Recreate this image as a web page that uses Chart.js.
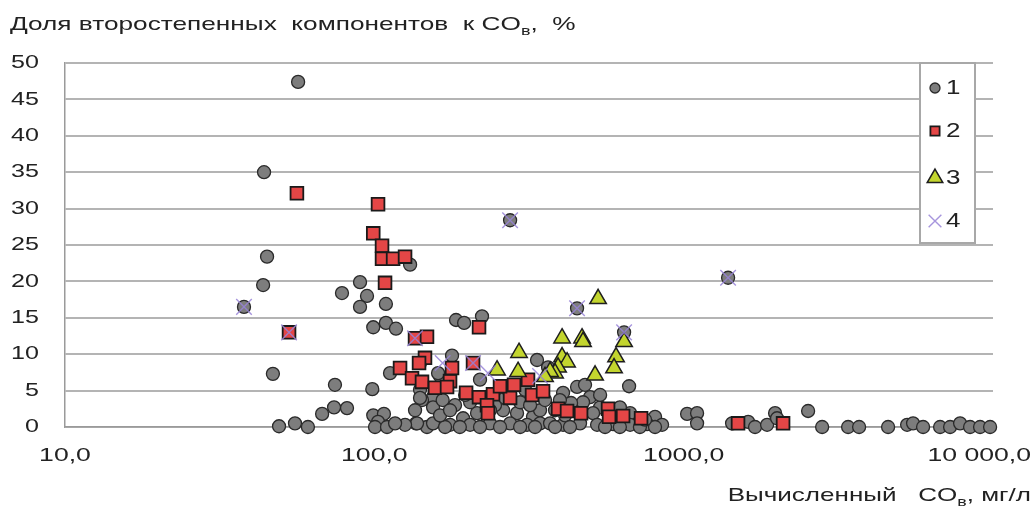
<!DOCTYPE html>
<html>
<head>
<meta charset="utf-8">
<script src="https://cdn.jsdelivr.net/npm/chart.js@4.4.1/dist/chart.umd.min.js"></script>
<style>
  html, body { margin: 0; padding: 0; background: #fff; }
</style>
</head>
<body>
<canvas id="chart" width="1035" height="507"></canvas>
<script>
// Серия 1 (серые кружки)
const s1X = [56.7, 44.0, 45.0, 43.7, 47.0, 49.2, 55.4, 61.0, 67.8, 74.1, 81.6, 74.6, 78.6, 89.9, 94.7, 89.9, 109, 99.2, 109, 117.5,
  130.5, 98.5, 112.4, 99.2, 107.4, 102.8, 100.5, 109.9, 136.4, 148, 154.8, 142.6, 163.1, 140.5, 183.7, 195.1, 222.9, 178.3,
  37.9, 274.7, 1392, 452.2, 641.8, 666.2, 335.7, 364.4,
  137.4, 154.8, 175.7, 140.5, 140.5, 154.8, 166.3, 160.7, 219.6, 214.8, 260.8, 289.3, 325.8, 343.3, 193.6, 236.5, 274.7, 311.7, 343.3,
  452.2, 498.2, 472.8, 407.5, 432.5, 536.9, 509.5, 671.2, 808.1, 851.6, 369.9, 407.5, 462.4, 525, 591.2, 671.2, 761.6,
  1026, 1105, 1105, 1434, 1616, 1701, 1861, 1975, 2004, 2525, 2803, 3401, 3691, 4580, 5277, 5516, 5943, 6745, 7267, 7828, 8432, 9083, 9786,
  182.3, 204, 245.5, 264.7, 296, 318.8, 383.9, 413.7, 356.3, 307.2, 264.7, 398, 204, 219.6, 254.9, 296, 169.3, 189, 330.8, 383.9,
  429, 557, 622, 722, 808, 236.5, 196.6, 578, 622, 750, 163.1, 175.7, 479.9, 536.9, 135.4, 125.7, 116.7];
const s1Y = [47.4, 35.0, 23.4, 19.5, 7.3, 0.1, 0.5, 0, 1.8, 2.7, 2.6, 5.8, 18.4, 19.9, 18.0, 16.5, 16.9, 13.7, 14.3, 13.5,
  22.3, 5.2, 7.4, 1.6, 1.8, 0.7, 0, 0, 0.5, 0, 4.1, 3.7, 7.0, 8.8, 14.7, 14.3, 15.2, 9.8,
  16.5, 28.4, 20.5, 16.3, 13.0, 5.6, 9.2, 8.2,
  0.5, 0.5, 0.3, 5.1, 4.0, 2.7, 3.7, 7.4, 6.5, 1.9, 2.3, 1.9, 1.4, 2.3, 1.2, 0.5, 0.5, 0.3, 0.5,
  5.5, 4.1, 3.4, 4.7, 3.3, 2.7, 1.9, 1.9, 1.4, 0.3, 0.5, 0.3, 0.5, 0.3, 0.4, 0.3, 0.4,
  1.8, 1.9, 0.5, 0.5, 0.7, 0, 0.3, 1.9, 1.2, 2.2, 0, 0, 0, 0, 0.3, 0.5, 0, 0, 0, 0.5, 0, 0, 0,
  3.0, 3.4, 3.0, 4.0, 3.4, 3.0, 2.3, 1.6, 3.7, 5.1, 5.4, 3.7, 0.3, 0, 0, 0, 0, 0, 0, 0,
  0, 0, 0, 0, 0, 2.3, 4.4, 1.6, 2.7, 1.0, 1.6, 2.3, 5.8, 4.4, 2.3, 0.3, 0.5];

// Серия 2 (красные квадраты)
const s2X = [56.2, 102.8, 99.2, 105.9, 105.9, 115, 125.7, 108.3, 53.0, 135.4, 148, 145.8, 139.5, 121.1, 132.4, 142.6, 157.1,
  175.7, 178.3, 171.8, 198, 218, 218, 241.9, 274.7, 282.9, 254.9, 231.3, 233, 208.5, 313.9, 323.5, 351.1,
  392.6, 419.8, 465.9, 569.6, 573.9, 637.1, 728.4, 1499, 2096];
const s2Y = [32.1, 30.6, 26.6, 24.9, 23.1, 23.1, 23.4, 19.8, 13.0, 12.2, 12.4, 9.5, 8.8, 8.1, 6.7, 6.2, 5.4,
  6.3, 8.1, 5.5, 4.7, 4.1, 13.7, 4.5, 4.0, 5.8, 5.6, 3.0, 1.9, 8.8, 6.5, 4.4, 4.9,
  2.5, 2.2, 1.9, 2.5, 1.4, 1.5, 1.2, 0.5, 0.5];

// Серия 3 (жёлто-зелёные треугольники)
const s3X = [528.9, 404.5, 469.3, 472.8, 641.8, 604.6, 595.6, 517.1, 404.5, 419.8, 392.6, 383.9, 369.9, 356.3, 293.6, 291.5, 249.3];
const s3Y = [17.6, 12.2, 12.2, 11.7, 11.7, 9.6, 8.1, 7.1, 9.6, 8.9, 8.2, 7.4, 7.6, 6.9, 10.2, 7.6, 7.8];

// Серия 4 (крестики)
const s4X = [37.9, 53.0, 135.4, 166.3, 208.5, 233, 343.3, 274.7, 452.2, 641.8, 1392];
const s4Y = [16.5, 13.0, 12.2, 8.8, 8.8, 7.4, 7.0, 28.4, 16.3, 13.0, 20.5];

const legendLabels = ['1', '2', '3', '4'];
const xTickValues = [10, 100, 1000, 10000];
const xTickLabels = ['10,0', '100,0', '1000,0', '10 000,0'];

const toPoints = (xs, ys) => xs.map((x, i) => ({ x: x, y: ys[i] }));

// Шрифт в оригинале растянут по горизонтали
const FONT = '"Liberation Sans", Arial, sans-serif';
const TEXT_COLOR = '#222222';

function measureParts(ctx, parts, size, sx) {
  let w = 0;
  parts.forEach(p => {
    ctx.font = (p[1] ? Math.round(size * 0.7) : size) + 'px ' + FONT;
    w += ctx.measureText(p[0]).width * sx;
  });
  return w;
}

// Текст с нижним индексом: parts = [[строка, индекс?], ...]
function drawParts(ctx, parts, x, y, align, size, sx) {
  ctx.save();
  ctx.fillStyle = TEXT_COLOR;
  ctx.textBaseline = 'middle';
  ctx.textAlign = 'left';
  const total = measureParts(ctx, parts, size, sx);
  let cx = align === 'right' ? x - total : align === 'center' ? x - total / 2 : x;
  parts.forEach(p => {
    const sub = p[1];
    const fs = sub ? Math.round(size * 0.7) : size;
    ctx.font = fs + 'px ' + FONT;
    const w = ctx.measureText(p[0]).width * sx;
    ctx.save();
    ctx.translate(cx, y + (sub ? size * 0.32 : 0));
    ctx.scale(sx, 1);
    ctx.fillText(p[0], 0, 0);
    ctx.restore();
    cx += w;
  });
  ctx.restore();
}

const textPlugin = {
  id: 'texts',
  afterDraw(chart) {
    const ctx = chart.ctx;
    const xs = chart.scales.x;
    const ys = chart.scales.y;

    // подписи оси Y
    ys.ticks.forEach(t => {
      drawParts(ctx, [[String(t.value), 0]], 39, ys.getPixelForValue(t.value), 'right', 19, 1.32);
    });

    // подписи оси X
    xTickValues.forEach((v, i) => {
      const px = xs.getPixelForValue(v);
      const last = i === xTickValues.length - 1;
      drawParts(ctx, [[xTickLabels[i], 0]], last ? 1031 : px, 456, last ? 'right' : 'center', 19, 1.4);
    });

    // заголовки осей
    drawParts(ctx, [['Доля второстепенных  компонентов  к CO', 0], ['в', 1], [',  %', 0]], 10, 25, 'left', 19, 1.38);
    drawParts(ctx, [['Вычисленный   CO', 0], ['в', 1], [', мг/л', 0]], 1031, 496, 'right', 19, 1.37);

    // легенда
    const lx = 920, ly = 63, lw = 55, lh = 180;
    ctx.save();
    ctx.fillStyle = '#ffffff';
    ctx.fillRect(lx, ly, lw, lh);
    ctx.strokeStyle = '#a8a8a8';
    ctx.lineWidth = 2;
    ctx.strokeRect(lx, ly, lw, lh);
    const rowsY = [88, 131, 178, 221];
    const legendRadius = [5, 6.5, 9, 9];
    chart.data.datasets.forEach((ds, i) => {
      ctx.fillStyle = ds.backgroundColor;
      ctx.strokeStyle = ds.borderColor;
      ctx.lineWidth = ds.borderWidth;
      Chart.helpers.drawPoint(ctx, {
        pointStyle: ds.pointStyle,
        radius: legendRadius[i],
        rotation: 0,
        borderWidth: ds.borderWidth
      }, 935, rowsY[i]);
      drawParts(ctx, [[legendLabels[i], 0]], 946, rowsY[i], 'left', 20, 1.3);
    });
    ctx.restore();
  }
};

new Chart(document.getElementById('chart'), {
  type: 'scatter',
  data: {
    datasets: [
      {
        label: legendLabels[0],
        data: toPoints(s1X, s1Y),
        pointStyle: 'circle',
        pointRadius: 6.5,
        backgroundColor: '#7d7d7d',
        borderColor: '#2a2a2a',
        borderWidth: 1.3,
        order: 3,
        clip: false
      },
      {
        label: legendLabels[1],
        data: toPoints(s2X, s2Y),
        pointStyle: 'rect',
        pointRadius: 9,
        backgroundColor: '#e44646',
        borderColor: '#1a1a1a',
        borderWidth: 1.8,
        order: 2,
        clip: false
      },
      {
        label: legendLabels[2],
        data: toPoints(s3X, s3Y),
        pointStyle: 'triangle',
        pointRadius: 9.5,
        backgroundColor: '#c3d52e',
        borderColor: '#1e1e1e',
        borderWidth: 1.5,
        order: 1,
        clip: false
      },
      {
        label: legendLabels[3],
        data: toPoints(s4X, s4Y),
        pointStyle: 'crossRot',
        pointRadius: 11,
        backgroundColor: 'rgba(0,0,0,0)',
        borderColor: 'rgba(150,130,215,0.85)',
        borderWidth: 1.4,
        order: 0,
        clip: false
      }
    ]
  },
  options: {
    responsive: false,
    animation: false,
    events: [],
    layout: { padding: { left: 0, right: 42, top: 63, bottom: 0 } },
    plugins: {
      legend: { display: false },
      tooltip: { enabled: false }
    },
    scales: {
      x: {
        type: 'logarithmic',
        min: 10,
        max: 10000,
        afterFit: s => { s.height = 80; s.paddingLeft = 0; s.paddingRight = 0; },
        ticks: { display: false },
        grid: { display: false, drawTicks: false },
        border: { display: true, color: '#9a9a9a', width: 1.5 }
      },
      y: {
        min: 0,
        max: 50,
        afterFit: s => { s.width = 65; },
        ticks: { display: false, stepSize: 5 },
        grid: { color: '#b4b4b4', lineWidth: 2, drawTicks: false },
        border: { display: true, color: '#9a9a9a', width: 1.5 }
      }
    }
  },
  plugins: [textPlugin]
});
</script>
</body>
</html>
